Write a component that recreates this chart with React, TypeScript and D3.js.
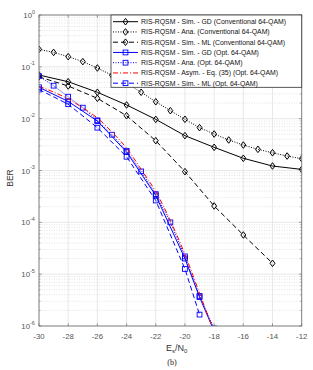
import React from 'react';
import * as d3 from 'd3';

// Es/N0 grids
const snrEven = [-30, -28, -26, -24, -22, -20, -18, -16, -14, -12];
const snrFine = [-30, -29, -28, -27, -26, -25, -24, -23, -22, -21, -20, -19, -18, -17, -16, -15, -14, -13, -12];

// conventional 64-QAM
const gdConv = [0.0695, 0.0516, 0.0323, 0.0184, 0.0097, 0.0047, 0.0028, 0.00172, 0.00122, 0.00105];
const anaConv = [0.218, 0.19, 0.157, 0.126, 0.095, 0.0687, 0.0481, 0.0323, 0.0212, 0.01425, 0.00973, 0.0067, 0.00506, 0.00388, 0.0031, 0.00256, 0.0022, 0.0019, 0.00169];
const snrMlConv = [-30, -28, -26, -24, -22, -20, -18, -16, -14];
const mlConv = [0.064, 0.0427, 0.0247, 0.0114, 0.00376, 0.00095, 0.000207, 0.000057, 0.0000162];

// optimised 64-QAM
const snrGdOpt = [-30, -28, -26, -24, -22, -20, -19, -18];
const gdOpt = [0.0403, 0.0215, 0.009, 0.00227, 0.00033, 0.00002, 0.0000036, 0.0000008];
const snrAnaOpt = [-30, -29, -28, -27, -26, -25, -24, -23, -22, -21, -20, -19, -18];
const anaOpt = [0.066, 0.0433, 0.0265, 0.0163, 0.0093, 0.0049, 0.0024, 0.00096, 0.00035, 0.0001, 0.000022, 0.0000038, 0.0000009];
const snrAsym = [-30, -29, -28, -27, -26, -25, -24, -23, -22, -21, -20, -19, -18];
const asymOpt = [0.042, 0.0326, 0.024, 0.0162, 0.0103, 0.0055, 0.0027, 0.00105, 0.00039, 0.000108, 0.000024, 0.0000043, 0.00000075];
const snrMlOpt = [-30, -28, -26, -24, -22, -20, -19];
const mlOpt = [0.0365, 0.019, 0.0067, 0.00184, 0.000264, 0.0000126, 0.00000166];

const yDecades = [0, -1, -2, -3, -4, -5, -6];

const legendLabels = [
  'RIS-RQSM - Sim. - GD (Conventional 64-QAM)',
  'RIS-RQSM - Ana. (Conventional 64-QAM)',
  'RIS-RQSM - Sim. - ML (Conventional 64-QAM)',
  'RIS-RQSM - Sim. - GD (Opt. 64-QAM)',
  'RIS-RQSM - Ana. (Opt. 64-QAM)',
  'RIS-RQSM - Asym. - Eq. (35) (Opt. 64-QAM)',
  'RIS-RQSM - Sim. - ML (Opt. 64-QAM)',
];

const L = 39, R = 301.7, T = 15, B = 326;
const x = d3.scaleLinear().domain([-30, -12]).range([L, R]);
const y = d3.scaleLog().domain([1e-6, 1]).range([B, T]);

const BLUE = '#0000ff';
const RED = '#ff0000';
const TICK = '#555';

type Series = {
  xs: number[]; ys: number[]; color: string; dash: string; marker: 'diamond' | 'square' | 'none';
};

const series: Series[] = [
  { xs: snrEven, ys: gdConv, color: '#000', dash: '', marker: 'diamond' },
  { xs: snrFine, ys: anaConv, color: '#000', dash: '1,1.5', marker: 'diamond' },
  { xs: snrMlConv, ys: mlConv, color: '#000', dash: '5,3', marker: 'diamond' },
  { xs: snrGdOpt, ys: gdOpt, color: BLUE, dash: '', marker: 'square' },
  { xs: snrAnaOpt, ys: anaOpt, color: BLUE, dash: '1,1.5', marker: 'square' },
  { xs: snrAsym, ys: asymOpt, color: RED, dash: '5,2,1,2', marker: 'none' },
  { xs: snrMlOpt, ys: mlOpt, color: BLUE, dash: '5,3', marker: 'square' },
];

const smooth = d3.line<[number, number]>().x(d => x(d[0])).y(d => y(d[1])).curve(d3.curveMonotoneX);
const straight = d3.line<[number, number]>().x(d => x(d[0])).y(d => y(d[1]));

function Marker({ cx, cy, kind, color }: { cx: number; cy: number; kind: string; color: string }) {
  if (kind === 'diamond') {
    const r = 3.3;
    return <path d={`M${cx},${cy - r}L${cx + r * 0.75},${cy}L${cx},${cy + r}L${cx - r * 0.75},${cy}Z`}
      fill="none" stroke={color} strokeWidth={1} />;
  }
  if (kind === 'square') {
    const s = 2.4;
    return <rect x={cx - s} y={cy - s} width={2 * s} height={2 * s} fill="none" stroke={color} strokeWidth={0.9} />;
  }
  return null;
}

export default function App() {
  const minors: number[] = [];
  yDecades.slice(1).forEach(d => {
    for (let k = 2; k <= 9; k++) minors.push(k * Math.pow(10, d));
  });
  const font = 'Liberation Sans, Arial, sans-serif';

  return (
    <svg width={313} height={370} style={{ position: 'absolute', left: 0, top: 0, background: '#fff' }}
      fontFamily={font}>
      <defs>
        <clipPath id="plot"><rect x={L} y={T} width={R - L} height={B - T} /></clipPath>
      </defs>
      <rect x={L} y={T} width={R - L} height={B - T} fill="#fff" />
      {/* grid */}
      {minors.map((v, i) => (
        <line key={'mg' + i} x1={L} x2={R} y1={y(v)} y2={y(v)} stroke="#d0d0d0" strokeWidth={0.6} strokeDasharray="1,1.5" />
      ))}
      {yDecades.map(d => (
        <line key={'yg' + d} x1={L} x2={R} y1={y(Math.pow(10, d))} y2={y(Math.pow(10, d))} stroke="#e2e2e2" strokeWidth={0.8} />
      ))}
      {snrEven.map(s => (
        <line key={'xg' + s} x1={x(s)} x2={x(s)} y1={T} y2={B} stroke="#e2e2e2" strokeWidth={0.8} />
      ))}
      {/* data */}
      <g clipPath="url(#plot)">
        {series.map((s, i) => {
          const pts = s.xs.map((v, j) => [v, s.ys[j]] as [number, number]);
          return (
            <g key={'s' + i}>
              <path d={(s.marker === 'none' ? smooth : straight)(pts) || ''} fill="none" stroke={s.color}
                strokeWidth={1} strokeDasharray={s.dash || undefined} />
              {pts.map((p, j) => (
                <Marker key={j} cx={x(p[0])} cy={y(p[1])} kind={s.marker} color={s.color} />
              ))}
            </g>
          );
        })}
      </g>
      {/* axes box and ticks */}
      <rect x={L} y={T} width={R - L} height={B - T} fill="none" stroke="#7a7a7a" strokeWidth={0.9} />
      {snrEven.map(s => (
        <g key={'xt' + s}>
          <line x1={x(s)} x2={x(s)} y1={B} y2={B - 2.6} stroke="#7a7a7a" strokeWidth={0.8} />
          <line x1={x(s)} x2={x(s)} y1={T} y2={T + 2.6} stroke="#7a7a7a" strokeWidth={0.8} />
          <text x={x(s)} y={338.5} fontSize={7.8} textAnchor="middle" fill={TICK}>{s}</text>
        </g>
      ))}
      {minors.map((v, i) => (
        <g key={'mt' + i}>
          <line x1={L} x2={L + 1.5} y1={y(v)} y2={y(v)} stroke="#7a7a7a" strokeWidth={0.6} />
          <line x1={R} x2={R - 1.5} y1={y(v)} y2={y(v)} stroke="#7a7a7a" strokeWidth={0.6} />
        </g>
      ))}
      {yDecades.map(d => {
        const yy = y(Math.pow(10, d));
        return (
          <g key={'yt' + d}>
            <line x1={L} x2={L + 2.6} y1={yy} y2={yy} stroke="#7a7a7a" strokeWidth={0.8} />
            <line x1={R} x2={R - 2.6} y1={yy} y2={yy} stroke="#7a7a7a" strokeWidth={0.8} />
            <text x={d === 0 ? 32 : 30} y={yy + 3} fontSize={7.8} textAnchor="end" fill={TICK}>10</text>
            <text x={d === 0 ? 32 : 30} y={yy - 1.5} fontSize={5.5} textAnchor="start" fill={TICK}>{d}</text>
          </g>
        );
      })}
      {/* labels */}
      <text transform="translate(13,178) rotate(-90)" fontSize={8.5} textAnchor="middle" fill="#333">BER</text>
      <text x={166} y={351} fontSize={9} fill="#333">E<tspan fontSize={6} dy={2}>s</tspan><tspan dy={-2}>/N</tspan><tspan fontSize={6} dy={2}>0</tspan></text>
      <text x={172} y={365} fontSize={8} textAnchor="middle" fontFamily="Liberation Serif, Times New Roman, serif" fill="#222">(b)</text>
      {/* legend */}
      <rect x={111} y={T} width={R - 111} height={72.3} fill="#fff" stroke="#333" strokeWidth={0.8} />
      {legendLabels.map((lab, i) => {
        const s = series[i];
        const yy = 21.7 + i * 10.25;
        return (
          <g key={'lg' + i}>
            <line x1={113} x2={138} y1={yy} y2={yy} stroke={s.color} strokeWidth={1} strokeDasharray={s.dash || undefined} />
            <Marker cx={125.5} cy={yy} kind={s.marker} color={s.color} />
            <text x={141} y={yy + 2.4} fontSize={6.9} fill="#111">{lab}</text>
          </g>
        );
      })}
    </svg>
  );
}
